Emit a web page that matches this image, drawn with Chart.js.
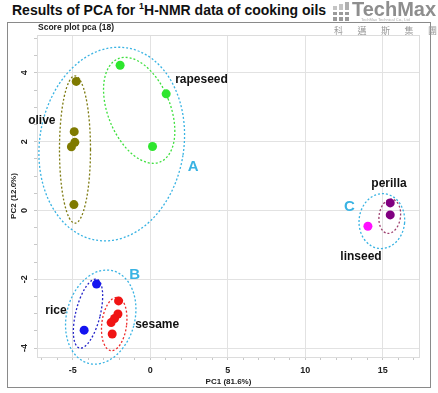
<!DOCTYPE html>
<html>
<head>
<meta charset="utf-8">
<script src="https://cdn.jsdelivr.net/npm/chart.js@4"></script>
<style>
  body { margin: 0; width: 438px; height: 393px; background: #fff; position: relative; overflow: hidden; font-family: "Liberation Sans", Arial, sans-serif; }
  #title { position: absolute; left: 12px; top: 1px; font-weight: bold; font-size: 14px; line-height: 18px; color: #111; white-space: nowrap; }
  #title sup { font-size: 9px; vertical-align: 6px; line-height: 0; }
  #frame { position: absolute; left: 7px; top: 22px; width: 422px; height: 364px; border: 1px solid #8a8a8a; }
  #logo { position: absolute; left: 332px; top: 0; width: 106px; height: 38px; }
  #logo .sq { position: absolute; background: #9a9a9a; }
  #logo .name { position: absolute; left: 20px; top: -2px; font-weight: bold; font-size: 20px; color: #8e8e8e; }
  #logo .sub { position: absolute; left: 29px; top: 17px; font-size: 4px; color: #aaa; white-space: nowrap; }
  #logo .cn { position: absolute; left: 2px; top: 26px; font-family: "Noto Sans CJK TC", sans-serif; font-size: 9px; line-height: 10px; color: #999; letter-spacing: 14.5px; white-space: nowrap; }
</style>
</head>
<body>
<div id="title">Results of PCA for <sup>1</sup>H-NMR data of cooking oils</div>
<div id="frame"><canvas id="chart" width="422" height="364"></canvas></div>
<div id="logo">
  <div class="sq" style="left:1px;top:6px;width:4px;height:4px;background:#c4c4c4"></div>
  <div class="sq" style="left:7px;top:4px;width:4px;height:6px;background:#c4c4c4"></div>
  <div class="sq" style="left:13px;top:2px;width:4px;height:8px;background:#b0b0b0"></div>
  <div class="sq" style="left:1px;top:12px;width:4px;height:3px"></div>
  <div class="sq" style="left:7px;top:12px;width:4px;height:3px"></div>
  <div class="sq" style="left:13px;top:12px;width:4px;height:3px"></div>
  <div class="sq" style="left:1px;top:17px;width:4px;height:4px"></div>
  <div class="sq" style="left:7px;top:17px;width:4px;height:4px"></div>
  <div class="sq" style="left:13px;top:17px;width:4px;height:4px"></div>
  <div class="name">TechMax</div>
  <div class="sub">TechMax Technical Co., Ltd</div>
  <div class="cn">科邁斯集團</div>
</div>
<script>
// score values (PC1, PC2)
const oliveX = [-4.77, -4.9, -4.86, -5.08, -4.92];
const oliveY = [3.75, 2.29, 1.98, 1.85, 0.17];
const rapeseedX = [-1.94, 1.03, 0.15];
const rapeseedY = [4.22, 3.39, 1.86];
const riceX = [-3.46, -4.26];
const riceY = [-2.14, -3.48];
const sesameX = [-2.04, -2.08, -2.3, -2.52, -2.45];
const sesameY = [-2.63, -3.01, -3.14, -3.26, -3.59];
const perillaX = [15.48, 15.48];
const perillaY = [0.22, -0.13];
const linseedX = [14.04];
const linseedY = [-0.46];

// axis ranges and ticks
const xMin = -7.3, xMax = 17.4;
const yMin = -4.26, yMax = 5.1;
const xTickLabels = [-5, 0, 5, 10, 15];
const yTickLabels = [-4, -2, 0, 2, 4];

// group ellipses: centre, semi axes (data units), tilt in degrees
const ellipseCx = [-2.48, -4.85, -0.71, -3.19, -4.01, -2.32, 14.94, 15.45];
const ellipseCy = [1.93, 1.77, 2.91, -3.10, -3.0, -3.30, -0.31, -0.17];
const ellipseRx = [4.65, 1.0, 2.01, 2.2, 0.79, 0.8, 1.47, 0.69];
const ellipseRy = [2.83, 2.14, 1.62, 1.39, 1.03, 0.78, 0.80, 0.50];
const ellipseTilt = [9, 0, -22, 15, 14, 7, 5, 8];
const ellipseColors = ['#39b3e3', '#7d7a10', '#3fe03f', '#39b3e3', '#2424c8', '#ee2a2a', '#39b3e3', '#9c3c6c'];

// text labels placed in data units
const labelText = ['rapeseed', 'olive', 'A', 'B', 'rice', 'sesame', 'C', 'perilla', 'linseed'];
const labelX = [1.61, -7.87, 2.77, -1.0, -6.77, -0.97, 12.84, 14.26, 12.26];
const labelY = [3.80, 2.61, 1.26, -1.88, -2.92, -3.33, 0.09, 0.78, -1.33];
const labelGroup = ['oil', 'oil', 'grp', 'grp', 'oil', 'oil', 'grp', 'oil', 'oil'];

const pts = (xs, ys) => xs.map((x, i) => ({ x: x, y: ys[i] }));

const overlay = {
    id: 'overlay',
    beforeDatasetsDraw(chart) {
        const ctx = chart.ctx;
        const xs = chart.scales.x, ys = chart.scales.y;
        const a = chart.chartArea;
        ctx.save();
        ctx.strokeStyle = '#dcdcdc';
        ctx.lineWidth = 1;
        ctx.strokeRect(a.left + 0.5, a.top + 0.5, a.right - a.left - 1, a.bottom - a.top);
        ctx.lineWidth = 1.3;
        ctx.setLineDash([2, 2]);
        ellipseCx.forEach((cx, i) => {
            const px = xs.getPixelForValue(cx);
            const py = ys.getPixelForValue(ellipseCy[i]);
            const rx = Math.abs(xs.getPixelForValue(cx + ellipseRx[i]) - px);
            const ry = Math.abs(ys.getPixelForValue(ellipseCy[i] + ellipseRy[i]) - py);
            ctx.strokeStyle = ellipseColors[i];
            ctx.beginPath();
            ctx.ellipse(px, py, rx, ry, ellipseTilt[i] * Math.PI / 180, 0, Math.PI * 2);
            ctx.stroke();
        });
        ctx.restore();
    },
    afterDatasetsDraw(chart) {
        const ctx = chart.ctx;
        const xs = chart.scales.x, ys = chart.scales.y;
        ctx.save();
        ctx.textBaseline = 'middle';
        labelText.forEach((t, i) => {
            const px = xs.getPixelForValue(labelX[i]);
            const py = ys.getPixelForValue(labelY[i]);
            if (labelGroup[i] === 'grp') {
                ctx.font = 'bold 15px "Liberation Sans", Arial, sans-serif';
                ctx.fillStyle = '#39b3e3';
                ctx.textAlign = 'center';
            } else {
                ctx.font = 'bold 12px "Liberation Sans", Arial, sans-serif';
                ctx.fillStyle = '#111';
                ctx.textAlign = 'left';
            }
            ctx.fillText(t, px, py);
        });
        // small caption above the plot area
        ctx.font = 'bold 8.5px "Liberation Sans", Arial, sans-serif';
        ctx.fillStyle = '#222';
        ctx.textAlign = 'left';
        ctx.fillText('Score plot pca (18)', chart.chartArea.left + 1, 5);
        ctx.restore();
    }
};

const tickFont = { family: '"Liberation Sans", Arial, sans-serif', size: 9, weight: 'bold' };

new Chart(document.getElementById('chart'), {
    type: 'scatter',
    data: {
        datasets: [
            { label: 'olive', data: pts(oliveX, oliveY), backgroundColor: '#7f7a00' },
            { label: 'rapeseed', data: pts(rapeseedX, rapeseedY), backgroundColor: '#2ee62e' },
            { label: 'rice', data: pts(riceX, riceY), backgroundColor: '#1414f0' },
            { label: 'sesame', data: pts(sesameX, sesameY), backgroundColor: '#f01414' },
            { label: 'perilla', data: pts(perillaX, perillaY), backgroundColor: '#800080' },
            { label: 'linseed', data: pts(linseedX, linseedY), backgroundColor: '#ff10ff' }
        ]
    },
    options: {
        responsive: false,
        animation: false,
        layout: { padding: { left: 0, right: 10, top: 12, bottom: 0 } },
        elements: { point: { radius: 4.5, borderWidth: 0, hoverRadius: 4.5 } },
        plugins: { legend: { display: false }, tooltip: { enabled: false } },
        scales: {
            x: {
                type: 'linear', min: xMin, max: xMax,
                afterFit(s) { s.height = 30; },
                border: { display: false },
                grid: {
                    color: c => xTickLabels.includes(c.tick && c.tick.value) ? '#e2e2e2' : 'rgba(0,0,0,0)',
                    borderDash: [1, 2],
                    tickColor: '#c8c8c8',
                    tickBorderDash: [],
                    tickLength: 3
                },
                ticks: {
                    stepSize: 1, includeBounds: false, autoSkip: false, maxRotation: 0,
                    padding: 5, color: '#222', font: tickFont,
                    callback: v => xTickLabels.includes(v) ? String(v) : ''
                },
                title: { display: true, text: 'PC1 (81.6%)', color: '#222', padding: { top: 0, bottom: 0 },
                    font: { family: '"Liberation Sans", Arial, sans-serif', size: 8, weight: 'bold' } }
            },
            y: {
                type: 'linear', min: yMin, max: yMax,
                afterFit(s) { s.width = 29; },
                border: { display: false },
                grid: {
                    color: c => yTickLabels.includes(c.tick && c.tick.value) ? '#e2e2e2' : 'rgba(0,0,0,0)',
                    borderDash: [1, 2],
                    tickColor: '#c8c8c8',
                    tickBorderDash: [],
                    tickLength: 3
                },
                ticks: {
                    stepSize: 0.5, includeBounds: false, autoSkip: false,
                    minRotation: 90, maxRotation: 90, crossAlign: 'center',
                    padding: 5, color: '#222', font: tickFont,
                    callback: v => yTickLabels.includes(v) ? String(v) : ''
                },
                title: { display: true, text: 'PC2 (12.0%)', color: '#222', padding: { top: 1, bottom: 0 },
                    font: { family: '"Liberation Sans", Arial, sans-serif', size: 8, weight: 'bold' } }
            }
        }
    },
    plugins: [overlay]
});
</script>
</body>
</html>
